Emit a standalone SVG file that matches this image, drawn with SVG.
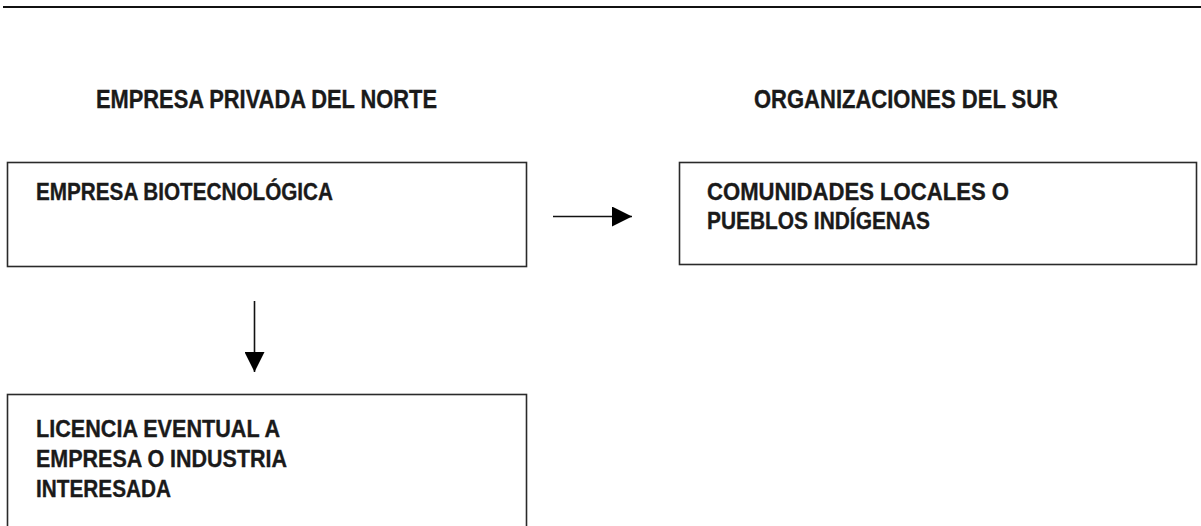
<svg xmlns="http://www.w3.org/2000/svg" width="1201" height="526" viewBox="0 0 1201 526">
<style>
.bg{fill:#ffffff}
.box{fill:#ffffff;stroke:#2a2a2a;stroke-width:1.6}
.head{font-family:"Liberation Sans",Arial,sans-serif;font-weight:bold;font-size:25px;fill:#1a1a1a;stroke:#1a1a1a;stroke-width:0.35}
.t{font-family:"Liberation Sans",Arial,sans-serif;font-weight:bold;font-size:23.5px;fill:#1a1a1a;stroke:#1a1a1a;stroke-width:0.35}
.conn{stroke:#111;stroke-width:1.6;fill:none}
</style>
<defs>
<marker id="ah" markerUnits="userSpaceOnUse" markerWidth="20" markerHeight="20" refX="20" refY="10" orient="auto" viewBox="0 0 20 20">
<path d="M0,0 L20,10 L0,20 Z" fill="#000"/>
</marker>
</defs>
<rect class="bg" x="0" y="0" width="1201" height="526"/>
<line x1="3" y1="7" x2="1201" y2="7" stroke="#111" stroke-width="2"/>
<g id="heading-norte"><text class="head" x="96" y="108" textLength="341" lengthAdjust="spacingAndGlyphs">EMPRESA PRIVADA DEL NORTE</text></g>
<g id="heading-sur"><text class="head" x="754" y="108" textLength="304" lengthAdjust="spacingAndGlyphs">ORGANIZACIONES DEL SUR</text></g>
<g id="node-empresa">
<rect class="box" x="7.5" y="162.5" width="519" height="104"/>
<text class="t" x="36" y="200" textLength="297" lengthAdjust="spacingAndGlyphs">EMPRESA BIOTECNOLÓGICA</text>
</g>
<g id="node-comunidades">
<rect class="box" x="679.5" y="162.5" width="517" height="102"/>
<text class="t" x="707" y="200" textLength="302" lengthAdjust="spacingAndGlyphs">COMUNIDADES LOCALES O</text>
<text class="t" x="707" y="229" textLength="223" lengthAdjust="spacingAndGlyphs">PUEBLOS INDÍGENAS</text>
</g>
<g id="node-licencia">
<rect class="box" x="7.5" y="394.5" width="519" height="150"/>
<text class="t" x="36" y="437" textLength="244" lengthAdjust="spacingAndGlyphs">LICENCIA EVENTUAL A</text>
<text class="t" x="36" y="467" textLength="251" lengthAdjust="spacingAndGlyphs">EMPRESA O INDUSTRIA</text>
<text class="t" x="36" y="497" textLength="135" lengthAdjust="spacingAndGlyphs">INTERESADA</text>
</g>
<g id="connectors">
<line class="conn" x1="553" y1="216.5" x2="632" y2="216.5" marker-end="url(#ah)"/>
<line class="conn" x1="254.5" y1="301" x2="254.5" y2="372" marker-end="url(#ah)"/>
</g>
</svg>
